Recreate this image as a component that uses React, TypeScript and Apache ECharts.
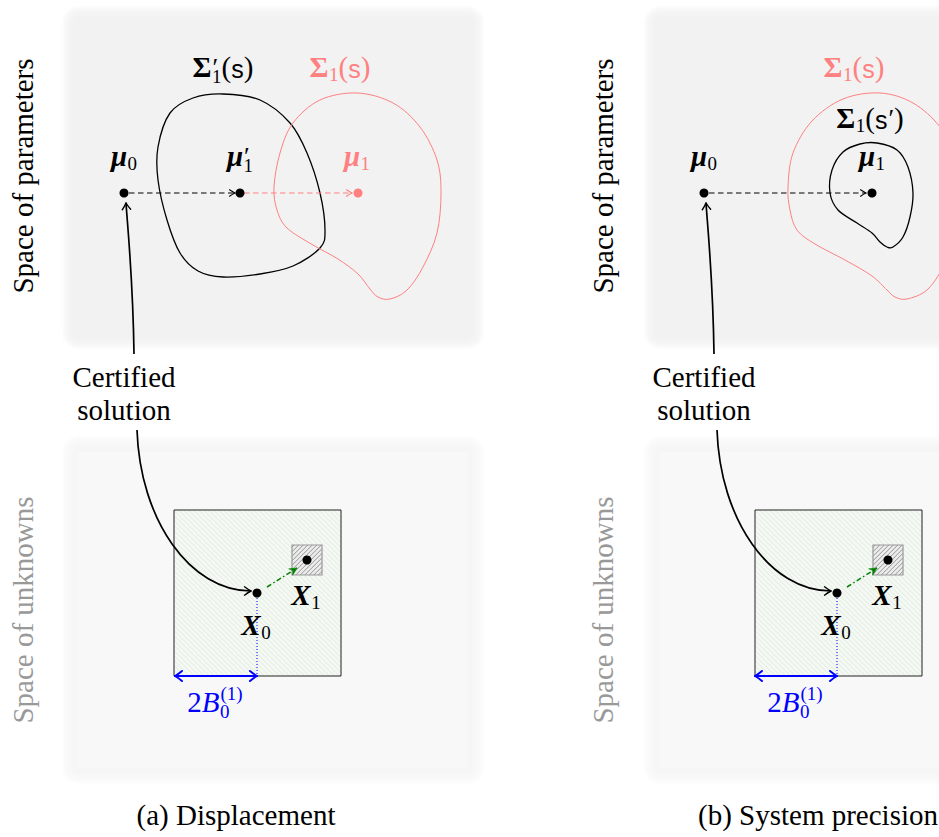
import React, { useEffect, useRef } from "react";
import * as echarts from "echarts";

const W = 939;
const H = 837;

const SERIF_FAMILY = "Liberation Serif";
const SANS_FAMILY = "Liberation Sans";
const RED = "#ff8080";
const BLUE = "#0000ff";
const GREEN = "#008000";

// ---------------- data (figure coordinates) ----------------
// dots: parameters (mu) and unknowns (X)
const dotX = [124, 240, 358, 704, 872, 257, 307, 837, 888];
const dotY = [193, 193, 193, 193, 193, 593, 560, 593, 560];
const dotIsRed = [false, false, true, false, false, false, false, false, false];

// closed contours
const blobSigmaPrimeA = [
  [223, 94], [260, 100], [290, 123], [307, 153], [320, 193], [325, 230], [320, 248],
  [293, 266], [260, 274], [223, 277], [198, 271], [180, 253], [167, 220], [158, 180],
  [158, 147], [170, 113], [193, 98],
];
const blobSigmaA = [
  [357, 93], [393, 103], [420, 127], [437, 160], [441, 193], [437, 233], [423, 267],
  [407, 290], [390, 299], [378, 297], [370, 289], [358, 274], [338, 259], [313, 245],
  [287, 228], [277, 210], [274, 187], [280, 153], [293, 123], [320, 100],
];
const blobSigmaB = [
  [880, 93], [913, 103], [940, 127], [957, 160], [961, 193], [957, 233], [943, 267],
  [927, 290], [907, 299], [895, 297], [887, 290], [872, 276], [845, 260], [815, 244],
  [797, 230], [790, 210], [788, 187], [793, 153], [812, 121], [843, 99],
];
const blobSigmaSPrimeB = [
  [877, 143], [897, 150], [908, 167], [913, 193], [910, 217], [903, 237], [893, 247],
  [887, 247], [880, 242], [872, 233], [857, 223], [838, 210], [830, 193], [832, 170],
  [843, 152], [860, 144],
];
const blobs = [blobSigmaPrimeA, blobSigmaA, blobSigmaB, blobSigmaSPrimeB];
const blobColor = ["#000", RED, RED, "#000"];

// arrows
const dashArrows = [
  [129, 193, 235, 193],
  [244, 193, 352, 193],
  [709, 193, 866, 193],
];
const dashArrowColor = ["#000", RED, "#000"];
const certCurves = [
  [134, 354, 133, 280, 128, 232, 126, 203],
  [137, 430, 140, 520, 190, 591, 251, 591],
  [714, 354, 713, 280, 708, 232, 706, 203],
  [717, 430, 720, 520, 770, 591, 831, 591],
];
const stepArrows = [
  [267, 587, 297, 568],
  [847, 587, 877, 568],
];
const dottedLines = [
  [257, 598, 257, 676],
  [837, 598, 837, 676],
];
const widthArrows = [
  [175, 676, 257, 676],
  [755, 676, 837, 676],
];
const outerBoxes = [
  [174, 510, 341, 676],
  [755, 510, 922, 676],
];
const innerBoxes = [
  [292, 545, 322, 575],
  [873, 545, 903, 575],
];

// texts
const sideTitles = ["Space of parameters", "Space of unknowns", "Space of parameters", "Space of unknowns"];
const sideTitleX = [23, 23, 603, 603];
const sideTitleY = [176, 610, 176, 610];
const sideTitleColor = ["#000", "#999", "#000", "#999"];
const certWords = ["Certified", "solution", "Certified", "solution"];
const certX = [124, 124, 704, 704];
const certBase = [387, 420, 387, 420];
const captions = ["(a) Displacement", "(b) System precision"];
const captionX = [236, 818];
const captionBase = 825;

type Tok = string[];
type Lbl = { cx: number; base: number; color: string; toks: Tok[] };
const mathLabels: Lbl[] = [
  { cx: 124, base: 166, color: "#000", toks: [["bi", "μ"], ["sub", "0"]] },
  { cx: 240, base: 166, color: "#000", toks: [["bi", "μ"], ["ss", "′", "1"]] },
  { cx: 357, base: 166, color: RED, toks: [["bi", "μ"], ["sub", "1"]] },
  { cx: 223, base: 77, color: "#000", toks: [["b", "Σ"], ["ss", "′", "1"], ["rm", "("], ["sf", "s"], ["rm", ")"]] },
  { cx: 340, base: 77, color: RED, toks: [["b", "Σ"], ["sub", "1"], ["rm", "("], ["sf", "s"], ["rm", ")"]] },
  { cx: 704, base: 166, color: "#000", toks: [["bi", "μ"], ["sub", "0"]] },
  { cx: 872, base: 166, color: "#000", toks: [["bi", "μ"], ["sub", "1"]] },
  { cx: 854, base: 77, color: RED, toks: [["b", "Σ"], ["sub", "1"], ["rm", "("], ["sf", "s"], ["rm", ")"]] },
  { cx: 870, base: 128, color: "#000", toks: [["b", "Σ"], ["sub", "1"], ["rm", "("], ["sf", "s"], ["prime", "′"], ["rm", ")"]] },
  { cx: 256, base: 635, color: "#000", toks: [["bi", "X"], ["sub", "0"]] },
  { cx: 306, base: 605, color: "#000", toks: [["bi", "X"], ["sub", "1"]] },
  { cx: 836, base: 635, color: "#000", toks: [["bi", "X"], ["sub", "0"]] },
  { cx: 887, base: 605, color: "#000", toks: [["bi", "X"], ["sub", "1"]] },
  { cx: 215, base: 712, color: BLUE, toks: [["rm", "2"], ["it", "B"], ["ss", "(1)", "0"]] },
  { cx: 795, base: 712, color: BLUE, toks: [["rm", "2"], ["it", "B"], ["ss", "(1)", "0"]] },
];

// ---------------- helpers ----------------
const MAIN = 29;
const SMALL = 19;
const CENTRAL = 0.34;

type FontSpec = { family: string; size: number; weight: string; style: string };

function spec(kind: string, size: number): FontSpec {
  switch (kind) {
    case "bi": return { family: SERIF_FAMILY, size, weight: "bold", style: "italic" };
    case "b": return { family: SERIF_FAMILY, size, weight: "bold", style: "normal" };
    case "it": return { family: SERIF_FAMILY, size, weight: "normal", style: "italic" };
    case "sf": return { family: SANS_FAMILY, size, weight: "normal", style: "normal" };
    default: return { family: SERIF_FAMILY, size, weight: "normal", style: "normal" };
  }
}

let measureCtx: CanvasRenderingContext2D | null = null;
function measure(text: string, f: FontSpec): number {
  if (!measureCtx) measureCtx = document.createElement("canvas").getContext("2d");
  if (!measureCtx) return text.length * f.size * 0.5;
  measureCtx.font = `${f.style} ${f.weight} ${f.size}px '${f.family}'`;
  return measureCtx.measureText(text).width;
}

function textEl(text: string, x: number, baseline: number, f: FontSpec, color: string, align = "left", z = 20, rotation = 0) {
  return {
    type: "text",
    x,
    y: rotation ? baseline : baseline - CENTRAL * f.size,
    rotation,
    z,
    silent: true,
    style: {
      text,
      fontFamily: f.family,
      fontSize: f.size,
      fontWeight: f.weight,
      fontStyle: f.style,
      fill: color,
      align,
      textAlign: align,
      verticalAlign: "middle",
      textVerticalAlign: "middle",
    },
  };
}

function buildMathLabel(l: Lbl) {
  const items: { t: string; f: FontSpec; x: number; dy: number }[] = [];
  let x = 0;
  for (const tok of l.toks) {
    const kind = tok[0];
    if (kind === "sub" || kind === "sup") {
      const f = spec("rm", SMALL);
      items.push({ t: tok[1], f, x: x + 0.5, dy: kind === "sub" ? 4 : -11 });
      x += measure(tok[1], f) + 0.5;
    } else if (kind === "ss") {
      const isPrime = tok[1] === "′";
      const f1 = spec("rm", isPrime ? 26 : SMALL);
      const f2 = spec("rm", SMALL);
      items.push({ t: tok[1], f: f1, x: x + 1, dy: isPrime ? -1 : -12 });
      items.push({ t: tok[2], f: f2, x: x + 0.5, dy: 6 });
      x += Math.max(measure(tok[1], f1) + 1, measure(tok[2], f2) + 0.5);
    } else if (kind === "prime") {
      const f = spec("rm", 26);
      items.push({ t: tok[1], f, x: x + 1, dy: -1 });
      x += measure(tok[1], f) + 1;
    } else {
      const f = spec(kind, kind === "sf" ? 25 : MAIN);
      items.push({ t: tok[1], f, x, dy: 0 });
      x += measure(tok[1], f);
    }
  }
  const left = l.cx - x / 2;
  return items.map((it) => textEl(it.t, left + it.x, l.base + it.dy, it.f, l.color));
}

function catmullPath(pts: number[][]): string {
  const n = pts.length;
  let d = `M${pts[0][0]},${pts[0][1]}`;
  for (let i = 0; i < n; i++) {
    const p0 = pts[(i - 1 + n) % n];
    const p1 = pts[i];
    const p2 = pts[(i + 1) % n];
    const p3 = pts[(i + 2) % n];
    const c1x = p1[0] + (p2[0] - p0[0]) / 6;
    const c1y = p1[1] + (p2[1] - p0[1]) / 6;
    const c2x = p2[0] - (p3[0] - p1[0]) / 6;
    const c2y = p2[1] - (p3[1] - p1[1]) / 6;
    d += ` C${c1x.toFixed(2)},${c1y.toFixed(2)} ${c2x.toFixed(2)},${c2y.toFixed(2)} ${p2[0]},${p2[1]}`;
  }
  return d + " Z";
}

function head(tx: number, ty: number, dx: number, dy: number, len: number, half: number, color: string, lw: number, filled: boolean) {
  const L = Math.hypot(dx, dy) || 1;
  const ux = dx / L, uy = dy / L;
  const nx = -uy, ny = ux;
  const bx = tx - ux * len, by = ty - uy * len;
  const a = [bx + nx * half, by + ny * half];
  const b = [bx - nx * half, by - ny * half];
  if (filled) {
    const notch = [tx - ux * len * 0.65, ty - uy * len * 0.65];
    return { type: "polygon", shape: { points: [[tx, ty], a, notch, b] }, style: { fill: color, stroke: color, lineWidth: 0.5 } };
  }
  const a2 = [tx - ux * len * 0.45 + nx * half * 0.35, ty - uy * len * 0.45 + ny * half * 0.35];
  const b2 = [tx - ux * len * 0.45 - nx * half * 0.35, ty - uy * len * 0.45 - ny * half * 0.35];
  return {
    type: "group",
    children: [
      { type: "bezierCurve", shape: { x1: a[0], y1: a[1], cpx1: a2[0], cpy1: a2[1], x2: tx, y2: ty }, style: { stroke: color, fill: "none", lineWidth: lw, lineCap: "round" } },
      { type: "bezierCurve", shape: { x1: b[0], y1: b[1], cpx1: b2[0], cpy1: b2[1], x2: tx, y2: ty }, style: { stroke: color, fill: "none", lineWidth: lw, lineCap: "round" } },
    ],
  };
}

function softRect(x: number, y: number, w: number, h: number, color: string, fade: number) {
  const els: any[] = [];
  const steps = 9;
  for (let k = steps; k >= 1; k--) {
    const e = (fade * k) / steps;
    els.push({
      type: "rect",
      z: -10,
      silent: true,
      shape: { x: x - e, y: y - e, width: w + 2 * e, height: h + 2 * e, r: e },
      style: { fill: color, opacity: 0.22 },
    });
  }
  els.push({ type: "rect", z: -10, silent: true, shape: { x, y, width: w, height: h }, style: { fill: color } });
  return els;
}

function buildOption() {
  const graphics: any[] = [];
  graphics.push(...softRect(78, 22, 390, 311, "#f2f2f2", 16));
  graphics.push(...softRect(78, 452, 390, 316, "#f8f8f8", 16));
  graphics.push(...softRect(660, 22, 400, 311, "#f2f2f2", 16));
  graphics.push(...softRect(660, 452, 400, 316, "#f8f8f8", 16));

  const plain = spec("rm", MAIN);
  sideTitles.forEach((t, i) => {
    graphics.push(textEl(t, sideTitleX[i], sideTitleY[i], plain, sideTitleColor[i], "center", 20, Math.PI / 2));
  });
  certWords.forEach((t, i) => {
    graphics.push(textEl(t, certX[i], certBase[i], plain, "#000", "center"));
  });
  captions.forEach((t, i) => {
    graphics.push(textEl(t, captionX[i], captionBase, plain, "#000", "center"));
  });
  mathLabels.forEach((l) => graphics.push(...buildMathLabel(l)));

  const allBoxes = outerBoxes.concat(innerBoxes);

  const series: any[] = [
    {
      type: "custom",
      name: "regions",
      coordinateSystem: "cartesian2d",
      silent: true,
      z: 1,
      data: allBoxes.map((b) => [b[0], b[1]]),
      renderItem: (params: any, api: any) => {
        const i = params.dataIndex;
        const outer = i < outerBoxes.length;
        const b = allBoxes[i];
        const p = api.coord([b[0], b[1]]);
        const q = api.coord([b[2], b[3]]);
        const x0 = Math.min(p[0], q[0]), x1 = Math.max(p[0], q[0]);
        const y0 = Math.min(p[1], q[1]), y1 = Math.max(p[1], q[1]);
        const children: any[] = [
          { type: "rect", shape: { x: x0, y: y0, width: x1 - x0, height: y1 - y0 }, style: { fill: outer ? "#f5f8f4" : "#ececec", stroke: "none" } },
        ];
        const s = outer ? 5 : 4.5;
        const stroke = outer ? "#d6e8d4" : "#6e6e6e";
        const lw = outer ? 0.8 : 0.7;
        if (outer) {
          for (let c = y0 - x1 + s / 2; c < y1 - x0; c += s) {
            const xa = Math.max(x0, y0 - c), xb = Math.min(x1, y1 - c);
            if (xb > xa) children.push({ type: "line", shape: { x1: xa, y1: xa + c, x2: xb, y2: xb + c }, style: { stroke, lineWidth: lw } });
          }
        } else {
          for (let c = x0 + y0 + s / 2; c < x1 + y1; c += s) {
            const xa = Math.max(x0, c - y1), xb = Math.min(x1, c - y0);
            if (xb > xa) children.push({ type: "line", shape: { x1: xa, y1: c - xa, x2: xb, y2: c - xb }, style: { stroke, lineWidth: lw } });
          }
        }
        children.push({
          type: "rect",
          shape: { x: x0, y: y0, width: x1 - x0, height: y1 - y0 },
          style: { fill: "none", stroke: outer ? "#222" : "#999", lineWidth: outer ? 1 : 1.2 },
        });
        return { type: "group", children };
      },
    },
    {
      type: "custom",
      name: "contours",
      coordinateSystem: "cartesian2d",
      silent: true,
      z: 2,
      data: blobs.map((b) => b[0]),
      renderItem: (params: any, api: any) => {
        const i = params.dataIndex;
        const pts = blobs[i].map((p) => api.coord(p));
        return {
          type: "path",
          shape: { pathData: catmullPath(pts) },
          style: { fill: "none", stroke: blobColor[i], lineWidth: blobColor[i] === RED ? 1 : 1.3 },
        };
      },
    },
    {
      type: "custom",
      name: "dashedArrows",
      coordinateSystem: "cartesian2d",
      silent: true,
      z: 3,
      data: dashArrows.map((a) => [a[0], a[1]]),
      renderItem: (params: any, api: any) => {
        const i = params.dataIndex;
        const a = dashArrows[i];
        const p = api.coord([a[0], a[1]]);
        const q = api.coord([a[2], a[3]]);
        const c = dashArrowColor[i];
        return {
          type: "group",
          children: [
            { type: "line", shape: { x1: p[0], y1: p[1], x2: q[0] - 1, y2: q[1] }, style: { stroke: c, lineWidth: 1.1, lineDash: [5.5, 3.5] } },
            head(q[0], q[1], q[0] - p[0], q[1] - p[1], 5.5, 3.2, c, 1.1, false),
          ],
        };
      },
    },
    {
      type: "custom",
      name: "certArrows",
      coordinateSystem: "cartesian2d",
      silent: true,
      z: 3,
      data: certCurves.map((a) => [a[0], a[1]]),
      renderItem: (params: any, api: any) => {
        const a = certCurves[params.dataIndex];
        const p0 = api.coord([a[0], a[1]]);
        const c1 = api.coord([a[2], a[3]]);
        const c2 = api.coord([a[4], a[5]]);
        const p1 = api.coord([a[6], a[7]]);
        return {
          type: "group",
          children: [
            {
              type: "bezierCurve",
              shape: { x1: p0[0], y1: p0[1], cpx1: c1[0], cpy1: c1[1], cpx2: c2[0], cpy2: c2[1], x2: p1[0], y2: p1[1] },
              style: { stroke: "#000", fill: "none", lineWidth: 1.7 },
            },
            head(p1[0], p1[1], p1[0] - c2[0], p1[1] - c2[1], 6.5, 4.2, "#000", 1.4, false),
          ],
        };
      },
    },
    {
      type: "custom",
      name: "stepArrows",
      coordinateSystem: "cartesian2d",
      silent: true,
      z: 3,
      data: stepArrows.map((a) => [a[0], a[1]]),
      renderItem: (params: any, api: any) => {
        const a = stepArrows[params.dataIndex];
        const p = api.coord([a[0], a[1]]);
        const q = api.coord([a[2], a[3]]);
        return {
          type: "group",
          children: [
            { type: "line", shape: { x1: p[0], y1: p[1], x2: q[0], y2: q[1] }, style: { stroke: GREEN, lineWidth: 1.5, lineDash: [5, 2.5, 1.5, 2.5] } },
            head(q[0], q[1], q[0] - p[0], q[1] - p[1], 7.5, 3.8, GREEN, 1, true),
          ],
        };
      },
    },
    {
      type: "custom",
      name: "dotted",
      coordinateSystem: "cartesian2d",
      silent: true,
      z: 3,
      data: dottedLines.map((a) => [a[0], a[1]]),
      renderItem: (params: any, api: any) => {
        const a = dottedLines[params.dataIndex];
        const p = api.coord([a[0], a[1]]);
        const q = api.coord([a[2], a[3]]);
        return { type: "line", shape: { x1: p[0], y1: p[1], x2: q[0], y2: q[1] }, style: { stroke: BLUE, lineWidth: 1, lineDash: [1, 2] } };
      },
    },
    {
      type: "custom",
      name: "widthArrows",
      coordinateSystem: "cartesian2d",
      silent: true,
      z: 4,
      data: widthArrows.map((a) => [a[0], a[1]]),
      renderItem: (params: any, api: any) => {
        const a = widthArrows[params.dataIndex];
        const p = api.coord([a[0], a[1]]);
        const q = api.coord([a[2], a[3]]);
        return {
          type: "group",
          children: [
            { type: "line", shape: { x1: p[0], y1: p[1], x2: q[0], y2: q[1] }, style: { stroke: BLUE, lineWidth: 2 } },
            head(q[0], q[1], q[0] - p[0], q[1] - p[1], 7, 5, BLUE, 2, false),
            head(p[0], p[1], p[0] - q[0], p[1] - q[1], 7, 5, BLUE, 2, false),
          ],
        };
      },
    },
    {
      type: "scatter",
      name: "points",
      silent: true,
      z: 5,
      symbol: "circle",
      symbolSize: 9,
      itemStyle: { opacity: 1 },
      data: dotX.map((x, i) => ({ value: [x, dotY[i]], itemStyle: { color: dotIsRed[i] ? RED : "#000", opacity: 1 } })),
    },
  ];

  return {
    animation: false,
    backgroundColor: "#ffffff",
    grid: { left: 0, right: 0, top: 0, bottom: 0, containLabel: false },
    xAxis: { type: "value", min: 0, max: W, show: false },
    yAxis: { type: "value", min: 0, max: H, inverse: true, show: false },
    tooltip: { show: false },
    graphic: { elements: graphics },
    series,
  };
}

export default function App() {
  const ref = useRef<HTMLDivElement>(null);
  useEffect(() => {
    document.body.style.margin = "0";
    if (!ref.current) return;
    const chart = echarts.init(ref.current, null, { renderer: "svg", width: W, height: H });
    chart.setOption(buildOption() as any);
    return () => chart.dispose();
  }, []);
  return (
    <div style={{ position: "fixed", left: 0, top: 0, width: W, height: H, background: "#fff" }}>
      <div ref={ref} style={{ width: W, height: H }} />
    </div>
  );
}
